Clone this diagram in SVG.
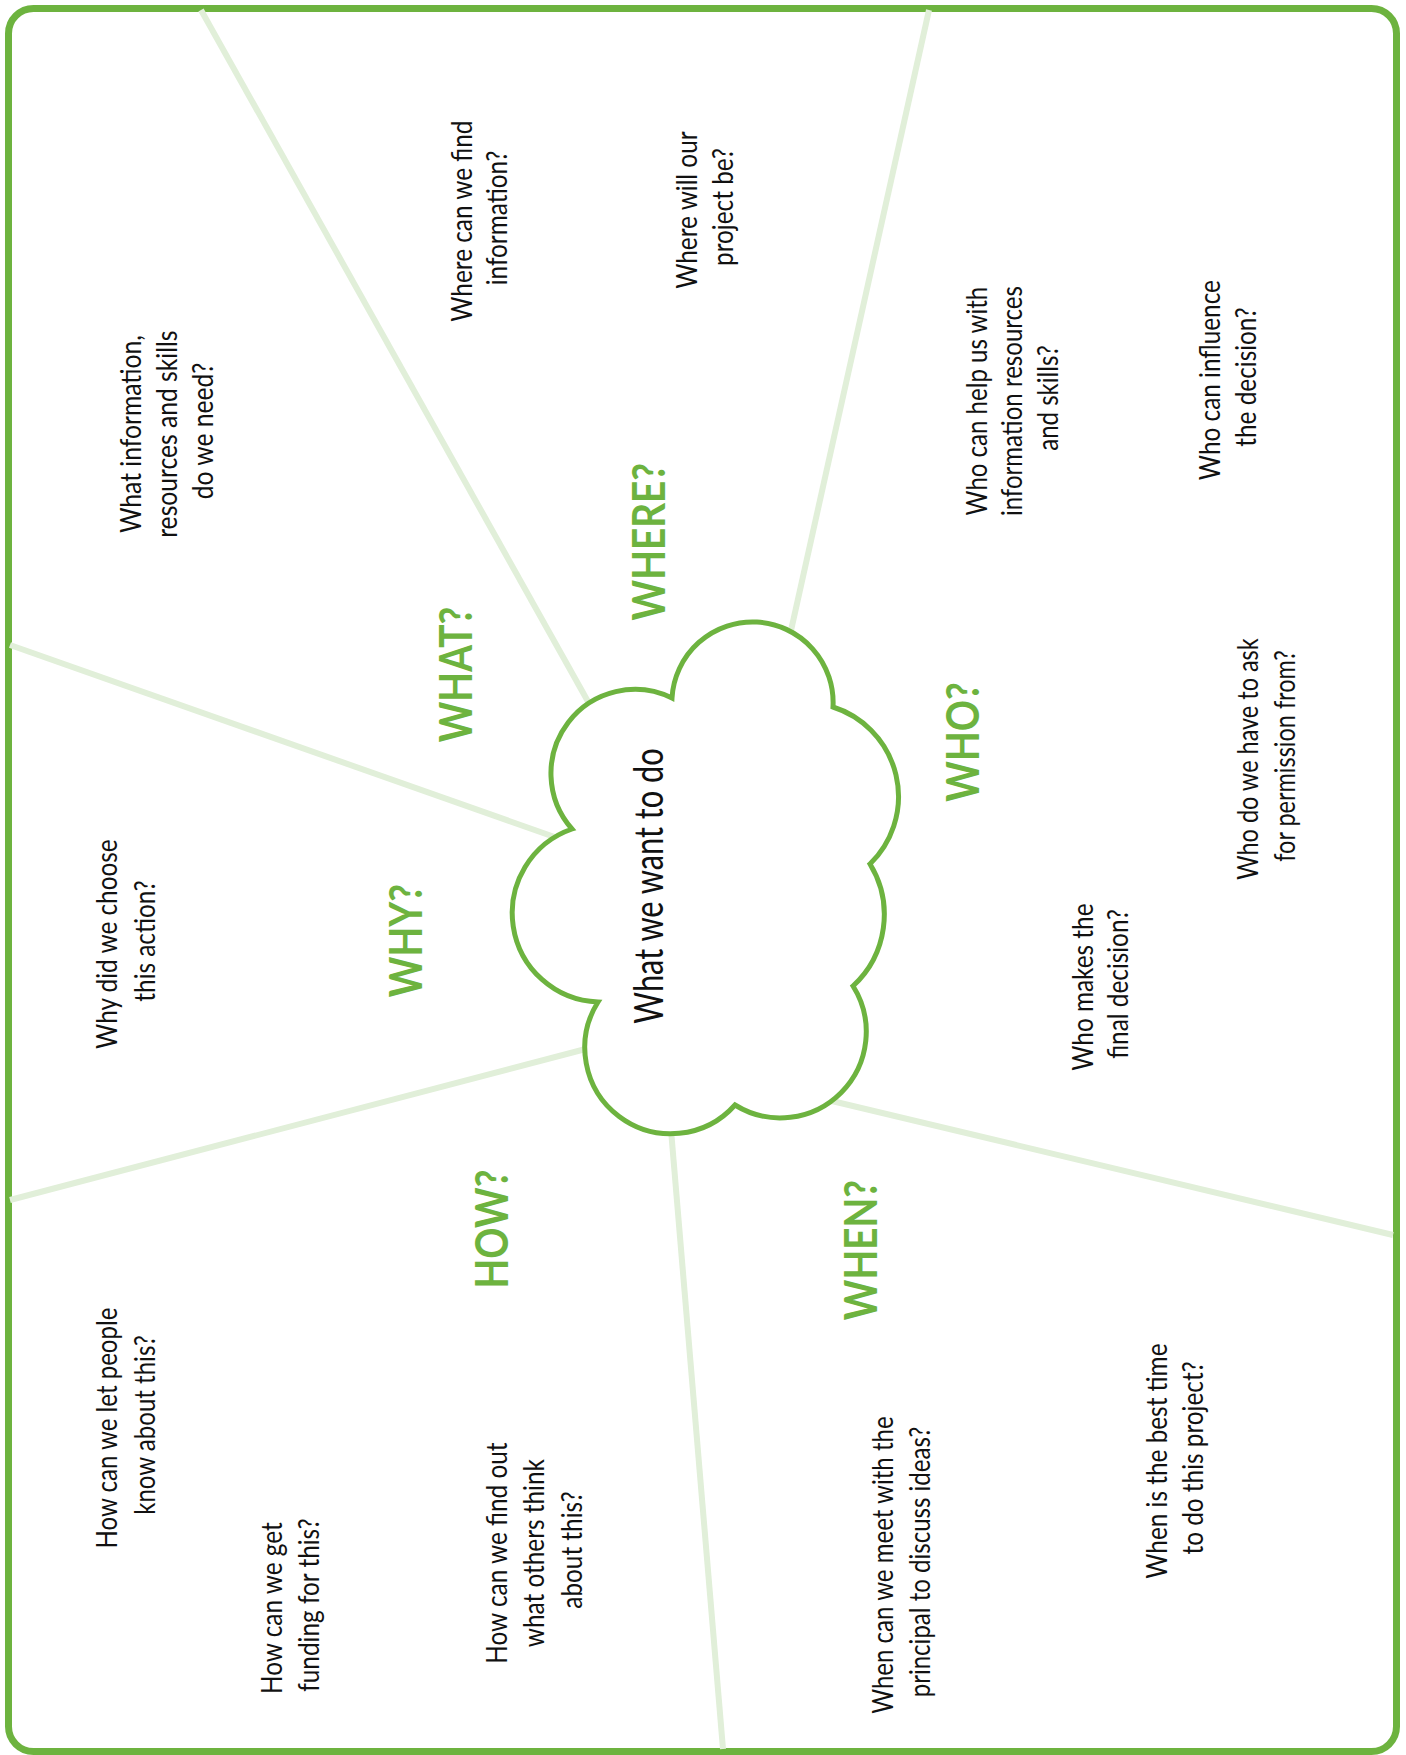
<svg xmlns="http://www.w3.org/2000/svg" width="1406" height="1755" viewBox="0 0 1406 1755">
  <style>
    .frame { fill: #ffffff; stroke: #6db33f; stroke-width: 7; }
    .spoke { stroke: #e1efd9; stroke-width: 6; fill: none; }
    .cloud { fill: #ffffff; stroke: #6db33f; stroke-width: 5; stroke-linejoin: miter; }
    .q { font-family: Lato, "Open Sans", "Liberation Sans", sans-serif; font-size: 29px; fill: #111111; text-anchor: middle; }
    .h { font-family: Lato, "Open Sans", "Liberation Sans", sans-serif; font-weight: 700; font-size: 45px; fill: #6db33f; text-anchor: middle; }
    .c { font-family: Lato, "Open Sans", "Liberation Sans", sans-serif; font-size: 41px; fill: #111111; text-anchor: middle; }
  </style>

  <rect x="0" y="0" width="1406" height="1755" fill="#ffffff"/>
  <rect class="frame" x="8.5" y="8.5" width="1388" height="1743" rx="25" ry="25"/>

  <!-- spokes radiating from the central cloud -->
  <g id="connectors">
    <line class="spoke" x1="201" y1="10" x2="600" y2="723"/>
    <line class="spoke" x1="929" y1="10" x2="780" y2="680"/>
    <line class="spoke" x1="10" y1="645" x2="600" y2="853"/>
    <line class="spoke" x1="10" y1="1200" x2="620" y2="1040"/>
    <line class="spoke" x1="668" y1="1094" x2="723" y2="1749"/>
    <line class="spoke" x1="790" y1="1091" x2="1393" y2="1235"/>
  </g>

  <!-- central cloud -->
  <g id="cloud">
    <path class="cloud" d="M 672 698 A 80 80 0 0 1 833 707 A 94 94 0 0 1 870 864 A 97 97 0 0 1 853 986 A 86 86 0 0 1 735 1105 A 86 86 0 0 1 598 1002 A 89 89 0 0 1 572 829 A 84 84 0 0 1 672 698 Z"/>
    <text class="c" transform="translate(663,886) rotate(-90) scale(0.75,1)" x="0" y="0">What we want to do</text>
  </g>

  <!-- category headings -->
  <g id="head-what"><text class="h" transform="translate(472,674.5) rotate(-90) scale(0.86,1)">WHAT?</text></g>
  <g id="head-where"><text class="h" transform="translate(665,541.7) rotate(-90) scale(0.86,1)">WHERE?</text></g>
  <g id="head-who"><text class="h" transform="translate(979,742) rotate(-90) scale(0.86,1)">WHO?</text></g>
  <g id="head-why"><text class="h" transform="translate(421.7,940.5) rotate(-90) scale(0.86,1)">WHY?</text></g>
  <g id="head-how"><text class="h" transform="translate(508,1229) rotate(-90) scale(0.86,1)">HOW?</text></g>
  <g id="head-when"><text class="h" transform="translate(877,1250) rotate(-90) scale(0.86,1)">WHEN?</text></g>

  <!-- questions -->
  <g id="q-what">
    <text class="q" transform="translate(141,431) rotate(-90) scale(0.85,1)">
      <tspan x="0" y="0">What information,</tspan>
      <tspan x="0" dy="36">resources and skills</tspan>
      <tspan x="0" dy="36">do we need?</tspan>
    </text>
  </g>
  <g id="q-where-info">
    <text class="q" transform="translate(472,218) rotate(-90) scale(0.84,1)">
      <tspan x="0" y="0">Where can we find</tspan>
      <tspan x="0" dy="35">information?</tspan>
    </text>
  </g>
  <g id="q-where-project">
    <text class="q" transform="translate(697,207) rotate(-90) scale(0.84,1)">
      <tspan x="0" y="0">Where will our</tspan>
      <tspan x="0" dy="36">project be?</tspan>
    </text>
  </g>
  <g id="q-who-help">
    <text class="q" transform="translate(987,398) rotate(-90) scale(0.83,1)">
      <tspan x="0" y="0">Who can help us with</tspan>
      <tspan x="0" dy="35.5">information resources</tspan>
      <tspan x="0" dy="35.5">and skills?</tspan>
    </text>
  </g>
  <g id="q-who-influence">
    <text class="q" transform="translate(1220,377) rotate(-90) scale(0.84,1)">
      <tspan x="0" y="0">Who can influence</tspan>
      <tspan x="0" dy="36">the decision?</tspan>
    </text>
  </g>
  <g id="q-who-permission">
    <text class="q" transform="translate(1258,756) rotate(-90) scale(0.81,1)">
      <tspan x="0" y="0">Who do we have to ask</tspan>
      <tspan x="0" dy="37">for permission from?</tspan>
    </text>
  </g>
  <g id="q-who-final">
    <text class="q" transform="translate(1093,984) rotate(-90) scale(0.84,1)">
      <tspan x="0" y="0">Who makes the</tspan>
      <tspan x="0" dy="35">final decision?</tspan>
    </text>
  </g>
  <g id="q-why">
    <text class="q" transform="translate(117,941) rotate(-90) scale(0.84,1)">
      <tspan x="0" y="0">Why did we choose</tspan>
      <tspan x="0" dy="38">this action?</tspan>
    </text>
  </g>
  <g id="q-how-tell">
    <text class="q" transform="translate(117,1425) rotate(-90) scale(0.83,1)">
      <tspan x="0" y="0">How can we let people</tspan>
      <tspan x="0" dy="38">know about this?</tspan>
    </text>
  </g>
  <g id="q-how-fund">
    <text class="q" transform="translate(282,1605) rotate(-90) scale(0.84,1)">
      <tspan x="0" y="0">How can we get</tspan>
      <tspan x="0" dy="37">funding for this?</tspan>
    </text>
  </g>
  <g id="q-how-opinion">
    <text class="q" transform="translate(507,1550) rotate(-90) scale(0.84,1)">
      <tspan x="0" y="0">How can we find out</tspan>
      <tspan x="0" dy="37.5">what others think</tspan>
      <tspan x="0" dy="37.5">about this?</tspan>
    </text>
  </g>
  <g id="q-when-meet">
    <text class="q" transform="translate(893,1562) rotate(-90) scale(0.83,1)">
      <tspan x="0" y="0">When can we meet with the</tspan>
      <tspan x="0" dy="37">principal to discuss ideas?</tspan>
    </text>
  </g>
  <g id="q-when-time">
    <text class="q" transform="translate(1167,1458) rotate(-90) scale(0.84,1)">
      <tspan x="0" y="0">When is the best time</tspan>
      <tspan x="0" dy="36">to do this project?</tspan>
    </text>
  </g>
</svg>
